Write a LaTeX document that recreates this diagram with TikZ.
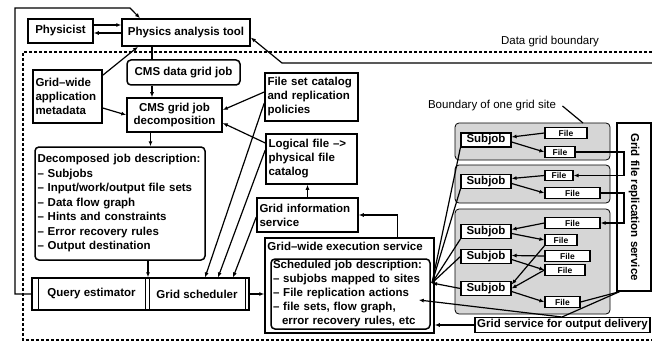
\documentclass[tikz,border=0pt]{standalone}
\usepackage{fontspec}
\setmainfont{Liberation Sans}
\usetikzlibrary{arrows.meta,calc}

\begin{document}
\begin{tikzpicture}[x=1pt,y=-1pt,
  font=\fontsize{11.5}{14.5}\selectfont\bfseries,
  box/.style={draw, line width=1.5pt, inner sep=2pt, fill=white},
  rbox/.style={box, rounded corners=4pt},
  wire/.style={line width=1.2pt},
  arr/.style={wire, -{Latex[length=5pt,width=4pt]}},
  site/.style={draw, line width=0.8pt, fill=black!16, rounded corners=4pt},
  jobbox/.style={draw, line width=1.2pt, fill=white, inner sep=0pt, minimum width=50pt, minimum height=14pt},
  filebox/.style={draw, line width=1.2pt, fill=white, inner sep=0pt, minimum height=10.5pt,
    font=\fontsize{8.5}{10}\selectfont\bfseries},
  boundary/.style={line width=1.6pt, dash pattern=on 3pt off 2pt},
  note/.style={font=\fontsize{11.5}{14}\selectfont},
]
\useasboundingbox (0,0) rectangle (652,350);

% helper coordinates
\coordinate (vx) at (152,0);
\coordinate (rx) at (624,0);
\coordinate (loopx) at (15,8);
\coordinate (edge) at (652,63);

% data grid boundary
\draw[boundary] (652,52) -| (23,340) -- (652,340);
\node[note] (dgb) at (550,42) {Data grid boundary};

% grid sites
\draw[site] (455,123) rectangle (610,160);
\draw[site] (455,165) rectangle (610,203);
\draw[site] (455,209) rectangle (610,314);
\node[note] (bsite) at (492,106) {Boundary of one grid site};
\coordinate (bsitetip) at (583,123);

% boxes
\node[box, minimum width=65pt, minimum height=24pt] (phys) at (60.5,31) {Physicist};
\node[box, minimum width=128pt, minimum height=27pt] (pat) at (186,32.5) {Physics analysis tool};
\node[rbox, minimum width=113pt, minimum height=25pt] (cmsjob) at (183.5,72.5) {CMS data grid job};
\node[box, minimum width=95pt, minimum height=34pt, align=center, font=\fontsize{11.5}{13.5}\selectfont\bfseries] (decomp) at (174.5,115) {CMS grid job\\decomposition};
\node[box, minimum width=69pt, minimum height=53pt, text width=64pt, align=left, font=\fontsize{11.5}{14}\selectfont\bfseries] (meta) at (67.5,96.5) {Grid–wide\\application\\metadata};
\node[box, minimum width=93pt, minimum height=48pt, text width=88pt, align=left, font=\fontsize{11.5}{14}\selectfont\bfseries] (fsc) at (311.5,97) {File set catalog\\and replication\\policies};
\node[box, minimum width=91pt, minimum height=50pt, text width=86pt, align=left, font=\fontsize{11.5}{14}\selectfont\bfseries] (lfc) at (311.5,159) {Logical file –>\\physical file\\catalog};
\node[box, minimum width=101pt, minimum height=34pt, text width=96pt, align=left, font=\fontsize{11.5}{14}\selectfont\bfseries] (gis) at (307.5,215) {Grid information\\service};
\node[rbox, minimum width=170pt, minimum height=113pt, text width=165pt, align=left] (djd) at (120,203.5)
  {Decomposed job description:\\– Subjobs\\– Input/work/output file sets\\– Data flow graph\\– Hints and constraints\\– Error recovery rules\\– Output destination};

% query estimator and grid scheduler
\node[box, minimum width=217pt, minimum height=32pt] (frame) at (140.5,294) {};
\node[draw, line width=1pt, minimum width=107pt, minimum height=32pt] (qe) at (91.5,294) {Query estimator};
\node[draw, line width=1pt, minimum width=96pt, minimum height=32pt] (gs) at (197,294) {Grid scheduler};

% execution service
\node[box, minimum width=169pt, minimum height=95pt] (exec) at (349.5,285.5) {};
\node[anchor=north west, inner sep=0pt] (execlbl) at ([xshift=3pt,yshift=-5pt]exec.north west) {Grid–wide execution service};
\node[rbox, minimum width=159pt, minimum height=70pt, text width=155pt, inner sep=1pt, align=left,
  font=\fontsize{11.5}{14}\selectfont\bfseries] (sjd) at (350.5,294)
  {Scheduled job description:\\– subjobs mapped to sites\\– File replication actions\\– file sets, flow graph,\\\hspace*{9pt}error recovery rules, etc};

\node[box, minimum width=175pt, minimum height=15pt, inner sep=0pt] (out) at (562.5,325) {Grid service for output delivery};
\node[box, minimum width=34pt, minimum height=168pt, inner sep=0pt] (rep) at (634,207) {\rotatebox{-90}{Grid file replication service}};

% subjobs and files
\node[jobbox] (sj1) at (486,140) {Subjob};
\node[jobbox] (sj2) at (486,181.5) {Subjob};
\node[jobbox] (sj3) at (486,231.5) {Subjob};
\node[jobbox] (sj4) at (486,256.5) {Subjob};
\node[jobbox] (sj5) at (486,288.5) {Subjob};
\node[filebox, minimum width=42pt] (f11) at (566,133) {File};
\node[filebox, minimum width=30pt] (f12) at (560,152) {File};
\node[filebox, minimum width=28pt] (f21) at (559,175.5) {File};
\node[filebox, minimum width=55pt] (f22) at (572.5,193) {File};
\node[filebox, minimum width=55pt] (f31) at (572.5,223) {File};
\node[filebox, minimum width=32pt] (f32) at (561,240) {File};
\node[filebox, minimum width=45pt] (f33) at (567.5,256) {File};
\node[filebox, minimum width=40pt] (f34) at (565,270) {File};
\node[filebox, minimum width=35pt] (f35) at (562.5,302) {File};

% physicist and analysis tool
\draw[arr] ([yshift=6pt]phys.east) -- ([yshift=7.5pt]pat.west);
\draw[arr] ([yshift=-0.5pt]pat.west) -- ([yshift=-2pt]phys.east);
\draw[arr] (frame.west) -| (loopx) -- (130,8) -- ([xshift=-46pt]pat.north);
\draw[arr] (edge) -- (282,63) -- ([yshift=-5pt]pat.east);

% job flow down the left column
\draw[wire] (pat.south -| vx) -- (cmsjob.north -| vx);
\draw[arr] (cmsjob.south -| vx) -- (decomp.north -| vx);
\draw[arr] ([xshift=-24pt]decomp.south) -- ([xshift=-24pt]decomp.south |- djd.north);
\draw[arr] ([xshift=28pt]djd.south) -- ([xshift=28pt]djd.south |- frame.north);
\draw[arr] ([yshift=-6pt]meta.north east) -- ([xshift=-48pt]pat.south);
\draw[arr] ([yshift=-11.5pt]meta.east) -- (decomp.west);
\draw[arr] ([yshift=5pt]fsc.west) -- ([yshift=5pt]decomp.east);
\draw[arr] ([yshift=16pt]lfc.west) -- ([yshift=-8pt]decomp.east);
\draw[arr] (gis.north) -- (gis.north |- lfc.south);
\draw[arr] ([xshift=48pt]exec.north) |- (gis.east);

% catalogues to the scheduler
\draw[arr] ([yshift=-6pt]fsc.west) -- ([xshift=8pt]gs.north);
\draw[arr] ([yshift=9pt]lfc.west) -- ([xshift=21pt]gs.north);
\draw[arr] ([yshift=-2pt]gis.west) -- ([xshift=36pt]gs.north);
\draw[arr] (frame.east) -- (frame.east -| exec.west);

% output delivery
\draw[arr] (out.west) -- (out.west -| exec.east);

% subjobs mapped to sites
\coordinate (sites) at (432,283);
\draw[wire] (sites) -- (sj1.south west);
\draw[wire] (sites) -- (sj2.south west);
\draw[wire] (sites) -- (sj3.south west);
\draw[wire] (sites) -- (sj4.west);
\draw[arr] (sj5.west) -- (sites);

% file replication actions
\draw[arr] ([xshift=3pt]rep.south west) -- (562,317) -- ([xshift=-12pt,yshift=-6pt]sjd.east);
\draw[wire] (f35.east) -- ([xshift=3pt]rep.south west);

% inside the sites
\draw[arr] (f11.west) -- ([yshift=3pt]sj1.east);
\draw[arr] ([yshift=-2pt]sj1.east) -- (f12.west);
\draw[arr] (f21.west) -- ([yshift=3pt]sj2.east);
\draw[arr] ([yshift=-2pt]sj2.east) -- (f22.west);
\draw[arr] (f31.west) -- ([yshift=2pt]sj3.east);
\draw[arr] ([yshift=-2pt]sj3.east) -- (f32.west);
\draw[arr] (f33.west) -- ([yshift=1pt]sj4.east);
\draw[arr] ([yshift=-3pt]sj4.east) -- (f34.west);
\draw[arr] (f32.south west) -- ([yshift=4pt]sj5.east);
\draw[arr] (f34.west) -- ([yshift=0pt]sj5.east);
\draw[arr] ([yshift=-3pt]sj5.east) -- (f35.west);

% replication between sites
\draw[arr] (f12.east) -| (rx |- f21.east) -- (f21.east);
\draw[arr] (f22.east) -| (rx |- f31.east) -- (f31.east);

% site boundary pointer
\draw[wire] ([xshift=3pt]bsite.east) -- (bsitetip);
\end{tikzpicture}
\end{document}
